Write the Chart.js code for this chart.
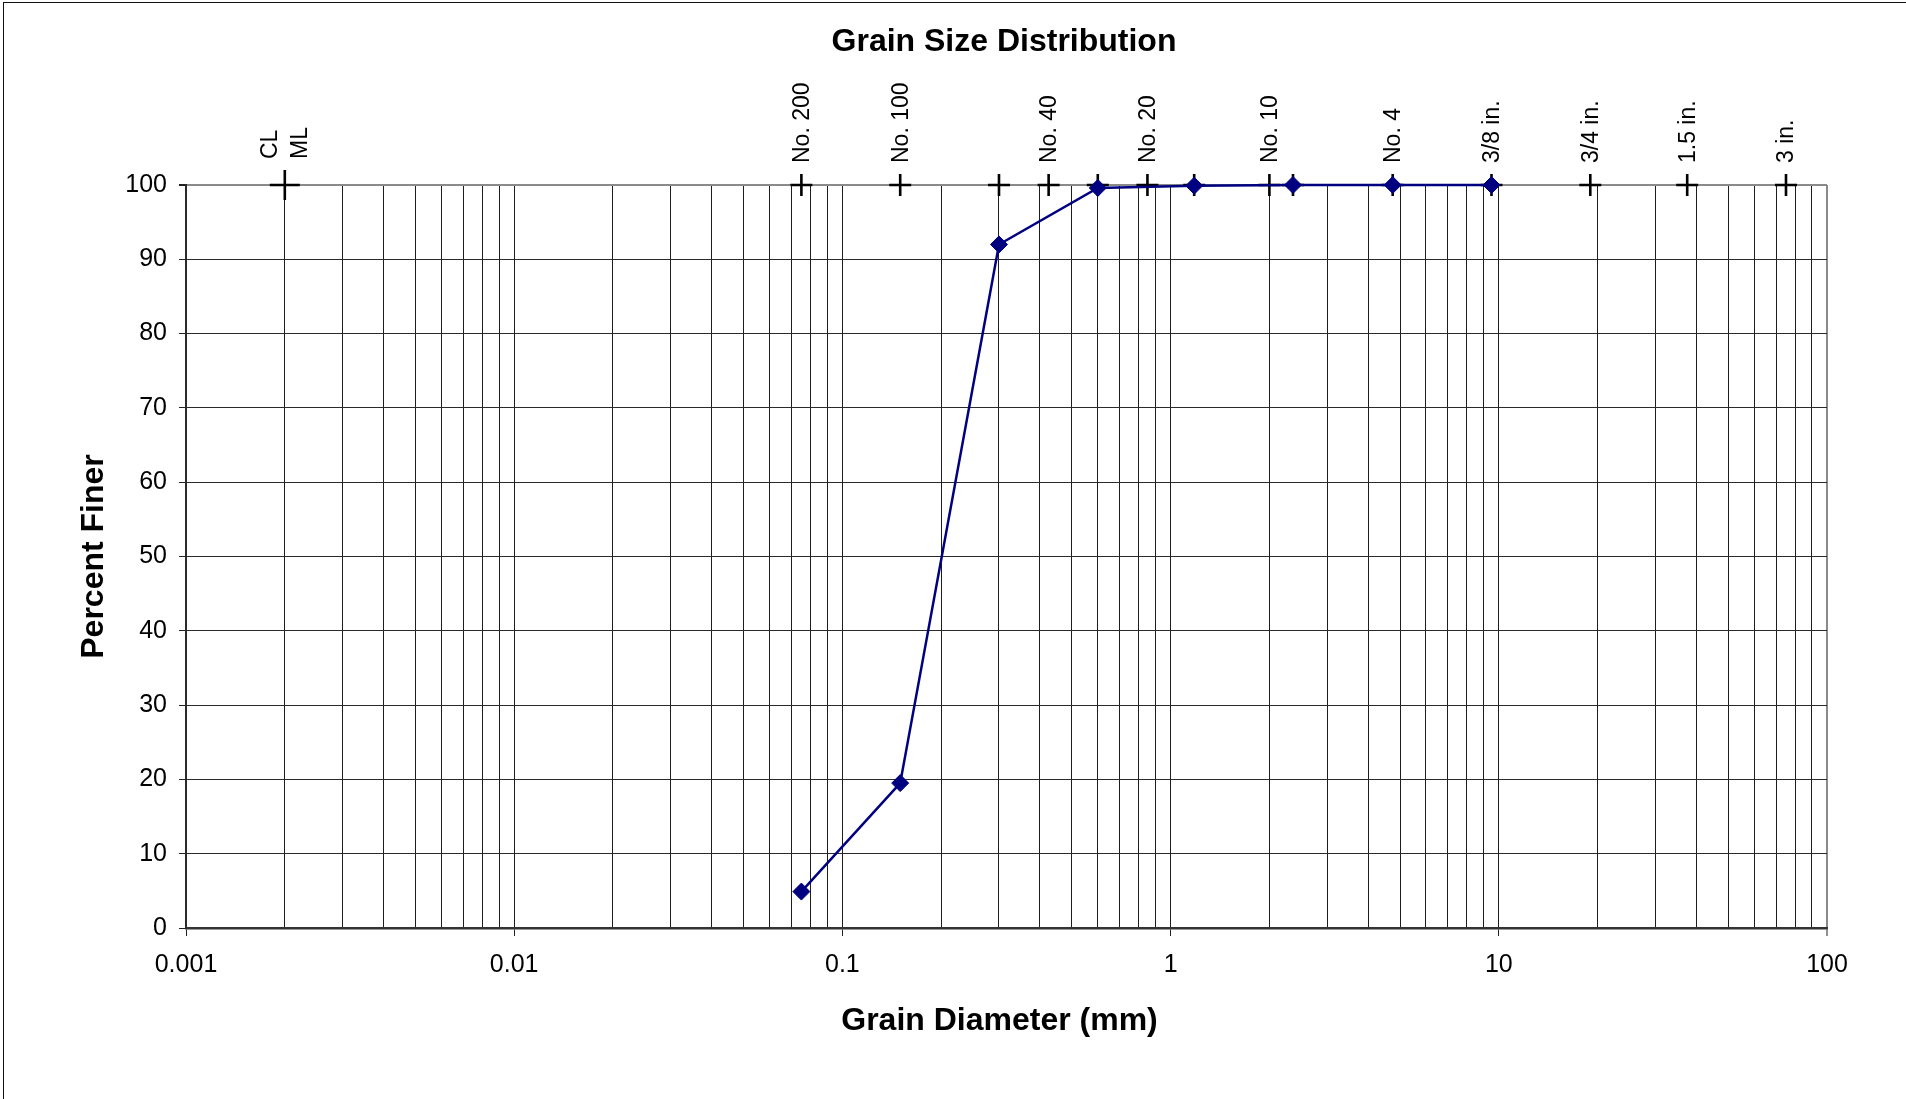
<!DOCTYPE html>
<html>
<head>
<meta charset="utf-8">
<title>Grain Size Distribution</title>
<script src="https://cdn.jsdelivr.net/npm/chart.js@4.4.1/dist/chart.umd.min.js"></script>
<style>
  html, body { margin: 0; padding: 0; background: #fff; overflow: hidden; }
  #wrap { position: relative; width: 1906px; height: 1099px; }
  #wrap canvas { position: absolute; left: 0; top: 0; }
  #frame { position: absolute; left: 3px; top: 2px; width: 1960px; height: 1160px;
           border: 1px solid #111; box-sizing: border-box; pointer-events: none; }
</style>
</head>
<body>
<div id="wrap">
  <canvas id="chart" width="1906" height="1099"></canvas>
  <div id="frame"></div>
</div>
<script>
// Sieve analysis results: grain diameter (mm) and cumulative percent passing
const grainSizes   = [0.075, 0.15, 0.3, 0.6, 1.18, 2.36, 4.75, 9.5];
const percentFiner = [4.9, 19.5, 92.0, 99.6, 99.9, 100, 100, 100];

// Reference sieve openings (mm) marked along the top of the plot
const sieveSizes  = [0.002, 0.075, 0.15, 0.3, 0.425, 0.6, 0.85, 1.18, 2.0, 2.36, 4.75, 9.5, 19, 37.5, 75];
const sieveLabels = [['CL', 'ML'], 'No. 200', 'No. 100', '', 'No. 40', '', 'No. 20', '', 'No. 10', '', 'No. 4', '3/8 in.', '3/4 in.', '1.5 in.', '3 in.'];
const sieveLevel  = 100;

// Axis ticks
const xDecades    = [0.001, 0.01, 0.1, 1, 10, 100];
const xTickLabels = ['0.001', '0.01', '0.1', '1', '10', '100'];
const xMantissas  = [1, 2, 3, 4, 5, 6, 7, 8, 9];
const yTickValues = [0, 10, 20, 30, 40, 50, 60, 70, 80, 90, 100];

const FONT = "'Liberation Sans', Arial, Helvetica, sans-serif";

// vertical grid at every 1..9 step of each decade
const xGridValues = [];
xDecades.forEach((d, i) => {
  if (i === xDecades.length - 1) { xGridValues.push(d); return; }
  xMantissas.forEach(m => xGridValues.push(parseFloat((m * d).toPrecision(4))));
});
const decadeIndex = v => xDecades.findIndex(d => Math.abs(d - v) / d < 1e-6);

// Chart title, x-axis title and rotated sieve labels
const overlayPlugin = {
  id: 'overlay',
  afterDraw(chart) {
    const { ctx, scales } = chart;
    const xs = scales.x;
    ctx.save();
    ctx.fillStyle = '#000';
    ctx.font = `bold 32px ${FONT}`;
    ctx.textAlign = 'center';
    ctx.textBaseline = 'middle';
    ctx.fillText('Grain Size Distribution', 1004, 42);
    ctx.fillText('Grain Diameter (mm)', 999.5, 1021);

    ctx.font = `23px ${FONT}`;
    ctx.textAlign = 'left';
    const top = scales.y.getPixelForValue(sieveLevel);
    sieveSizes.forEach((s, i) => {
      const lab = sieveLabels[i];
      if (!lab) return;
      const x = xs.getPixelForValue(s);
      const lines = Array.isArray(lab) ? lab : [lab];
      const r = i === 0 ? 15 : 11;
      const lh = 30;
      ctx.save();
      ctx.translate(x, top - r - 11);
      ctx.rotate(-Math.PI / 2);
      lines.forEach((ln, k) => {
        const off = (k - (lines.length - 1) / 2) * lh;
        ctx.fillText(ln, 0, off + 1);
      });
      ctx.restore();
    });
    ctx.restore();
  }
};

new Chart(document.getElementById('chart'), {
  type: 'scatter',
  data: {
    datasets: [
      {
        label: 'Percent Finer',
        data: grainSizes.map((d, i) => ({ x: d, y: percentFiner[i] })),
        showLine: true,
        borderColor: '#000080',
        backgroundColor: '#000080',
        borderWidth: 2.5,
        pointStyle: 'rectRot',
        pointRadius: 8.5,
        pointHoverRadius: 8.5,
        pointBorderWidth: 1,
        clip: false
      },
      {
        label: 'Sieves',
        data: sieveSizes.map(s => ({ x: s, y: sieveLevel })),
        showLine: false,
        pointStyle: 'cross',
        pointRadius: c => (c.dataIndex === 0 ? 15 : 11),
        pointHoverRadius: c => (c.dataIndex === 0 ? 15 : 11),
        borderColor: '#000',
        backgroundColor: '#000',
        pointBorderWidth: 2.6,
        clip: false
      }
    ]
  },
  options: {
    responsive: false,
    animation: false,
    devicePixelRatio: 1,
    layout: { padding: { top: 185, right: 79, bottom: 0, left: 0 } },
    plugins: {
      legend: { display: false },
      tooltip: { enabled: false },
      title: { display: false }
    },
    events: [],
    scales: {
      x: {
        type: 'logarithmic',
        min: 0.001,
        max: 100,
        afterBuildTicks: s => { s.ticks = xGridValues.map(v => ({ value: v })); },
        afterFit: s => { s.height = 171; },
        ticks: {
          autoSkip: false,
          maxRotation: 0,
          minRotation: 0,
          padding: 14,
          color: '#000',
          font: { family: FONT, size: 25 },
          callback: v => { const i = decadeIndex(v); return i >= 0 ? xTickLabels[i] : ''; }
        },
        grid: {
          color: c => (c.tick && Math.abs(c.tick.value - 100) < 1e-6 ? '#8a8a8a' : '#1e1e1e'),
          lineWidth: c => (c.tick && Math.abs(c.tick.value - 100) < 1e-6 ? 2 : 1),
          tickLength: 8,
          tickColor: c => (c.tick && decadeIndex(c.tick.value) >= 0 ? '#222' : 'rgba(0,0,0,0)'),
          tickWidth: 1
        },
        border: { display: true, color: '#333', width: 2.5 },
        title: { display: false }
      },
      y: {
        type: 'linear',
        min: 0,
        max: 100,
        afterBuildTicks: s => { s.ticks = yTickValues.map(v => ({ value: v })); },
        afterFit: s => { s.width = 186; },
        ticks: {
          padding: 12,
          color: '#000',
          font: { family: FONT, size: 25 }
        },
        grid: {
          color: c => (c.tick && c.tick.value === 100 ? '#8a8a8a' : '#2a2a2a'),
          lineWidth: c => (c.tick && c.tick.value === 100 ? 2 : 1),
          tickLength: 7,
          tickColor: '#222'
        },
        border: { display: true, color: '#2a2a2a', width: 2 },
        title: {
          display: true,
          text: 'Percent Finer',
          color: '#000',
          font: { family: FONT, size: 32, weight: 'bold' },
          padding: { top: 75, bottom: 0 }
        }
      }
    }
  },
  plugins: [overlayPlugin]
});
</script>
</body>
</html>
